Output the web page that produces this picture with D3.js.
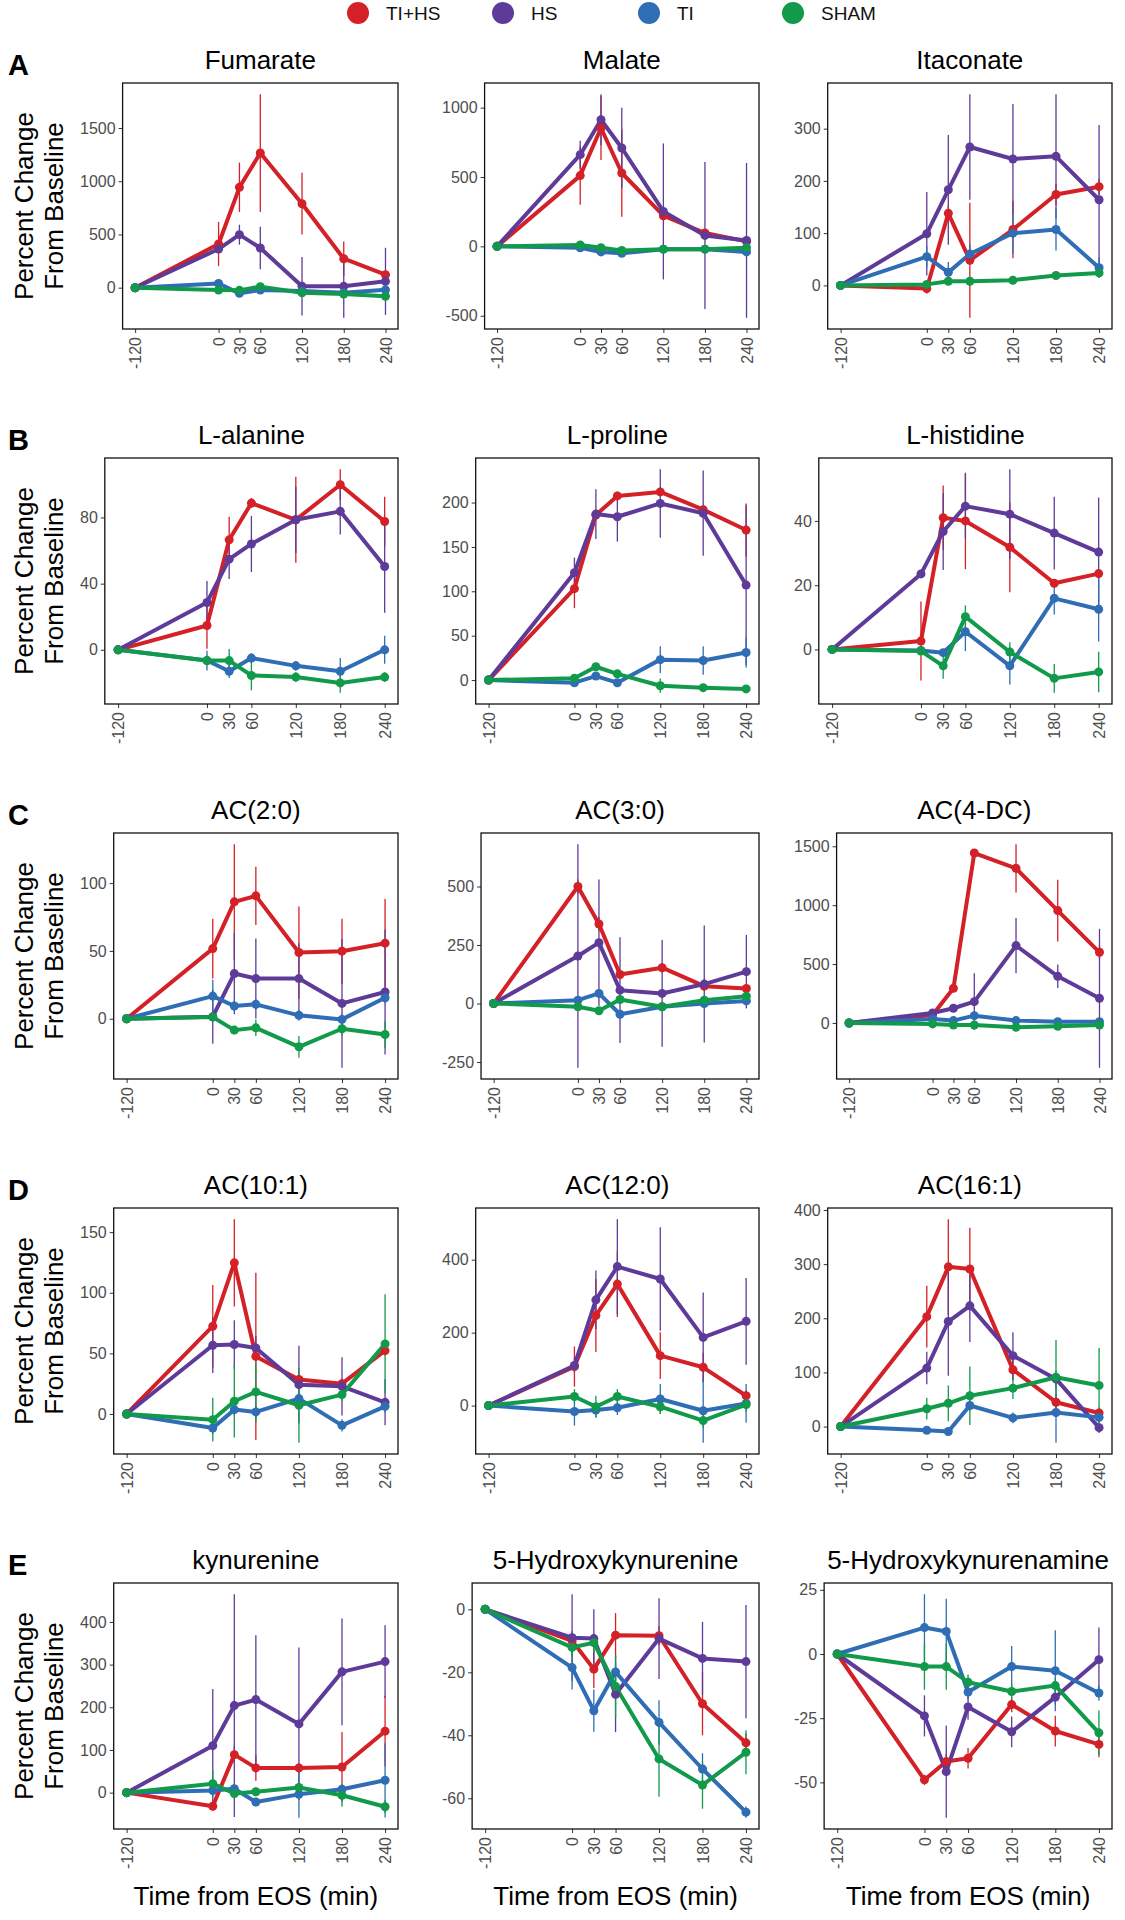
<!DOCTYPE html>
<html>
<head>
<meta charset="utf-8">
<script src="https://cdn.jsdelivr.net/npm/d3@7"></script>
<style>
  body { margin: 0; background: #fff; }
  text { font-family: "Liberation Sans", Arial, sans-serif; }
</style>
</head>
<body>
<div id="chart"></div>
<script>
// time points (min from end of shock) and groups
const times = [-120, 0, 30, 60, 120, 180, 240];
const groups = ["TI+HS", "HS", "TI", "SHAM"];
const groupColors = ["#d42027", "#5e3b98", "#2f6db5", "#119a4a"];

const rowLetters = ["A", "B", "C", "D", "E"];
const panelTitles = ["Fumarate", "Malate", "Itaconate",
  "L-alanine", "L-proline", "L-histidine",
  "AC(2:0)", "AC(3:0)", "AC(4-DC)",
  "AC(10:1)", "AC(12:0)", "AC(16:1)",
  "kynurenine", "5-Hydroxykynurenine", "5-Hydroxykynurenamine"];

const yTicks = [
  [0, 500, 1000, 1500], [-500, 0, 500, 1000], [0, 100, 200, 300],
  [0, 40, 80], [0, 50, 100, 150, 200], [0, 20, 40],
  [0, 50, 100], [-250, 0, 250, 500], [0, 500, 1000, 1500],
  [0, 50, 100, 150], [0, 200, 400], [0, 100, 200, 300, 400],
  [0, 100, 200, 300, 400], [-60, -40, -20, 0], [-50, -25, 0, 25]
];

// means: rows = TI+HS, HS, TI, SHAM
const fumarateMean = [
  [0, 410, 943, 1265, 789, 272, 122],
  [0, 363, 498, 373, 13, 13, 60],
  [0, 40, -53, -22, -30, -47, -20],
  [0, -22, -25, 10, -47, -60, -80]];
const fumarateSE = [
  [0, 208, 232, 553, 290, 163, 40],
  [0, 40, 94, 200, 275, 296, 315],
  [0, 20, 25, 15, 20, 20, 40],
  [0, 10, 10, 15, 15, 15, 15]];

const malateMean = [
  [0, 510, 853, 529, 221, 96, 36],
  [0, 661, 913, 709, 252, 79, 43],
  [0, -10, -40, -50, -20, -20, -40],
  [0, 10, -10, -30, -20, -20, -10]];
const malateSE = [
  [0, 210, 230, 315, 30, 20, 20],
  [0, 100, 184, 290, 490, 530, 558],
  [0, 20, 20, 20, 20, 20, 30],
  [0, 15, 20, 20, 20, 20, 20]];

const itaconateMean = [
  [0, -6, 138, 48, 107, 174, 189],
  [0, 99, 183, 265, 242, 247, 164],
  [0, 55, 25, 60, 100, 107, 34],
  [0, 2, 8, 8, 10, 19, 24]];
const itaconateSE = [
  [0, 10, 15, 110, 55, 20, 15],
  [0, 80, 105, 101, 105, 119, 143],
  [0, 20, 20, 20, 40, 40, 20],
  [0, 5, 5, 5, 5, 5, 5]];

const alanineMean = [
  [0, 14.7, 66.5, 88.7, 78.6, 99.8, 77.6],
  [0, 28.6, 54.8, 64, 78.6, 83.7, 50.4],
  [0, -6.5, -13, -5, -9.7, -13, 0],
  [0, -6.5, -6.5, -15.5, -16.5, -20, -16.5]];
const alanineSE = [
  [0, 14, 14, 3, 26, 9.4, 15],
  [0, 13, 12, 17, 20, 14, 28],
  [0, 6, 4, 3, 3, 8, 8.5],
  [0, 3, 7, 9, 3, 6, 3]];

const prolineMean = [
  [0, 103, 186, 207.5, 212, 192, 169],
  [0, 121, 187, 184, 199, 188, 107],
  [0, -3, 4.5, -3, 23, 22, 31],
  [0, 2, 15, 7, -6.4, -8.6, -10]];
const prolineSE = [
  [0, 22, 5, 5, 5, 5, 30],
  [0, 17, 28, 28, 38.6, 48, 90],
  [0, 3, 3, 3, 15, 16, 17],
  [0, 3, 3, 3, 8, 3, 3]];

const histidineMean = [
  [0, 2.6, 41, 40, 31.8, 20.6, 23.6],
  [0, 23.5, 36.7, 44.6, 42.1, 36.2, 30.3],
  [0, -0.3, -1, 5.5, -5.1, 15.9, 12.5],
  [0, -0.5, -5.1, 10.2, -0.8, -9, -7]];
const histidineSE = [
  [0, 12.3, 10, 15, 14, 1, 1],
  [0, 1, 12, 10, 14, 11.3, 17],
  [0, 1, 1, 6, 5.8, 5, 10],
  [0, 1, 4, 3.5, 3, 4.5, 6.3]];

const ac20Mean = [
  [0, 51.7, 86.2, 90.6, 48.8, 49.8, 55.7],
  [0, 1.5, 33.3, 29.6, 29.6, 11.3, 19.7],
  [0, 16.7, 9.4, 10.6, 2.5, -0.5, 15.5],
  [0, 1.2, -8.4, -6.7, -20.7, -7.4, -11.6]];
const ac20SE = [
  [0, 22, 42.5, 21.5, 34, 24, 32.5],
  [0, 20, 30, 29.5, 26, 47.5, 46],
  [0, 12, 4, 4, 4, 4, 4],
  [0, 3, 3, 6, 8, 5, 10]];

const ac30Mean = [
  [0, 500, 340, 124, 153, 74, 64],
  [0, 203, 260, 57, 43, 83, 136],
  [0, 14, 43, -46, -14, 0, 11],
  [0, -14, -31, 17, -14, 14, 31]];
const ac30SE = [
  [0, 30, 30, 20, 20, 20, 20],
  [0, 478, 270, 226, 228, 250, 157],
  [0, 15, 15, 15, 15, 15, 15],
  [0, 10, 10, 10, 10, 10, 10]];

const ac4dcMean = [
  [0, 68, 294, 1443, 1313, 954, 600],
  [0, 85, 125, 181, 657, 396, 209],
  [0, 34, 20, 62, 20, 11, 11],
  [0, -8, -17, -17, -37, -28, -17]];
const ac4dcSE = [
  [0, 20, 30, 20, 205, 263, 60],
  [0, 20, 30, 240, 235, 100, 590],
  [0, 10, 10, 10, 10, 10, 10],
  [0, 5, 5, 5, 5, 5, 5]];

const ac101Mean = [
  [0, 72.4, 124.7, 47.5, 28.4, 25, 52.3],
  [0, 56.7, 57.3, 54.5, 24.2, 22.8, 9.6],
  [0, -11.6, 3.6, 1.7, 12.7, -9.4, 6.3],
  [0, -4.7, 10.5, 18.2, 7.2, 16, 57.8]];
const ac101SE = [
  [0, 34, 36, 69, 4, 4, 4],
  [0, 23, 20, 10, 32, 24, 19],
  [0, 5, 5, 5, 6, 5, 5],
  [0, 18, 30, 25, 31, 5, 41]];

const ac120Mean = [
  [0, 107, 247, 333, 137, 105, 27],
  [0, 110, 290, 381, 347, 187, 231],
  [0, -16, -12, -6, 18, -14, 6],
  [0, 25, -3, 25, -3, -41, 3]];
const ac120SE = [
  [0, 55, 100, 90, 64, 40, 15],
  [0, 20, 80, 130, 142, 123, 119],
  [0, 39, 20, 20, 41, 88, 53],
  [0, 20, 30, 20, 20, 20, 20]];

const ac161Mean = [
  [0, 203, 295, 291, 105, 45, 25],
  [0, 108, 194, 223, 131, 88, -2],
  [0, -7, -9, 39, 16, 26, 17],
  [0, 33, 43, 57, 71, 91, 76]];
const ac161SE = [
  [0, 57, 88, 76, 20, 15, 10],
  [0, 30, 100, 67, 43, 15, 10],
  [0, 5, 5, 10, 10, 56, 10],
  [0, 20, 33, 54, 20, 69, 69]];

const kynMean = [
  [0, -32, 89, 58, 58, 60, 144],
  [0, 110, 204, 218, 161, 283, 307],
  [0, 5, 9, -22, -4, 8, 29],
  [0, 21, -2, 2, 12, -6, -33]];
const kynSE = [
  [0, 10, 20, 30, 10, 82, 83],
  [0, 133, 261, 151, 179, 125, 85],
  [0, 10, 10, 10, 55, 10, 87],
  [0, 31, 10, 10, 10, 27, 15]];

const hkynMean = [
  [0, -10, -19, -8.2, -8.4, -30, -42.4],
  [0, -9, -9.3, -27, -9.3, -15.6, -16.6],
  [0, -18.5, -32.2, -19.9, -35.9, -50.7, -64.4],
  [0, -12.1, -10.6, -24.5, -47.5, -55.8, -45.4]];
const hkynSE = [
  [0, 3, 6, 7, 3, 10, 3],
  [0, 13.8, 9.3, 12, 12.8, 11.6, 18],
  [0, 7, 6.7, 3, 7, 5, 1.8],
  [0, 3, 3, 10, 12, 7.5, 7]];

const hkynaMean = [
  [0, -49, -41.9, -40.6, -19.7, -30, -35.2],
  [0, -24.1, -45.8, -20.6, -30.3, -16.8, -2.2],
  [0, 10.3, 8.8, -14.8, -4.9, -6.5, -15.2],
  [0, -4.9, -4.9, -11, -14.6, -12.3, -30.7]];
const hkynaSE = [
  [0, 2, 3, 4, 3, 6, 5],
  [0, 8, 18, 5, 6, 3, 12.5],
  [0, 13, 12.7, 3, 8, 15.8, 3],
  [0, 9, 9, 3, 3, 3, 8.7]];

const panelMeans = [fumarateMean, malateMean, itaconateMean,
  alanineMean, prolineMean, histidineMean,
  ac20Mean, ac30Mean, ac4dcMean,
  ac101Mean, ac120Mean, ac161Mean,
  kynMean, hkynMean, hkynaMean];
const panelSEs = [fumarateSE, malateSE, itaconateSE,
  alanineSE, prolineSE, histidineSE,
  ac20SE, ac30SE, ac4dcSE,
  ac101SE, ac120SE, ac161SE,
  kynSE, hkynSE, hkynaSE];

// layout
const W = 1125, H = 1920;
const colBase = [87, 449, 801];
const colRight = [398, 759, 1112];
const rowTop0 = 83, rowStep = 375, panelH = 246;
const fontTick = 16;

const svg = d3.select("#chart").append("svg")
  .attr("width", W)
  .attr("height", H)
  .style("background", "#fff");

// measure label widths so panels line up like ggplot
const measure = svg.append("text").attr("font-size", fontTick).attr("x", -1000);
function textWidth(s) {
  measure.text(s);
  return measure.node().getComputedTextLength();
}

// legend
const legendX = [358, 503, 649, 793];
groups.forEach(function(g, i) {
  svg.append("circle")
    .attr("cx", legendX[i]).attr("cy", 13).attr("r", 11)
    .attr("fill", groupColors[i]);
  svg.append("text")
    .attr("x", legendX[i] + 28).attr("y", 13)
    .attr("dy", "0.35em")
    .attr("font-size", 19)
    .attr("fill", "#111")
    .text(g);
});

function expand(ext) {
  const pad = (ext[1] - ext[0]) * 0.05;
  return [ext[0] - pad, ext[1] + pad];
}

panelTitles.forEach(function(title, p) {
  const row = Math.floor(p / 3);
  const col = p % 3;
  const means = panelMeans[p];
  const ses = panelSEs[p];
  const ticks = yTicks[p];

  const labW = d3.max(ticks, t => textWidth(String(t)));
  const left = colBase[col] + labW;
  const right = colRight[col];
  const top = rowTop0 + row * rowStep;
  const bottom = top + panelH;

  const lo = d3.min(means, (s, gi) => d3.min(s, (v, k) => v - ses[gi][k]));
  const hi = d3.max(means, (s, gi) => d3.max(s, (v, k) => v + ses[gi][k]));

  const x = d3.scaleLinear().domain(expand(d3.extent(times))).range([left, right]);
  const y = d3.scaleLinear().domain(expand([lo, hi])).range([bottom, top]);

  const g = svg.append("g");

  // y axis
  const yAxis = g.append("g")
    .attr("transform", `translate(${left},0)`)
    .call(d3.axisLeft(y).tickValues(ticks).tickFormat(d => String(d)).tickSize(4).tickPadding(3));
  yAxis.select(".domain").remove();
  yAxis.selectAll("line").attr("stroke", "#333");
  yAxis.selectAll("text")
    .attr("font-size", fontTick)
    .attr("font-family", "Liberation Sans, Arial, sans-serif")
    .attr("fill", "#4d4d4d");

  // x axis, rotated labels
  const xAxis = g.append("g")
    .attr("transform", `translate(0,${bottom})`)
    .call(d3.axisBottom(x).tickValues(times).tickFormat(d => String(d)).tickSize(4));
  xAxis.select(".domain").remove();
  xAxis.selectAll("line").attr("stroke", "#333");
  xAxis.selectAll("text")
    .attr("font-size", fontTick)
    .attr("font-family", "Liberation Sans, Arial, sans-serif")
    .attr("fill", "#4d4d4d")
    .attr("transform", "rotate(-90)")
    .attr("text-anchor", "end")
    .attr("x", -8)
    .attr("y", 0)
    .attr("dy", "0.35em");

  // error bars
  means.forEach(function(series, gi) {
    g.selectAll(null)
      .data(series.map((v, k) => ({ t: times[k], v: v, e: ses[gi][k] })).filter(d => d.e > 0))
      .enter().append("line")
      .attr("x1", d => x(d.t)).attr("x2", d => x(d.t))
      .attr("y1", d => y(d.v - d.e)).attr("y2", d => y(d.v + d.e))
      .attr("stroke", groupColors[gi])
      .attr("stroke-width", 1.3);
  });

  // lines
  const line = d3.line().x((d, k) => x(times[k])).y(d => y(d));
  means.forEach(function(series, gi) {
    g.append("path")
      .datum(series)
      .attr("d", line)
      .attr("fill", "none")
      .attr("stroke", groupColors[gi])
      .attr("stroke-width", 4)
      .attr("stroke-linejoin", "round");
  });

  // points
  means.forEach(function(series, gi) {
    g.selectAll(null)
      .data(series)
      .enter().append("circle")
      .attr("cx", (d, k) => x(times[k]))
      .attr("cy", d => y(d))
      .attr("r", 4.5)
      .attr("fill", groupColors[gi]);
  });

  // panel border
  g.append("rect")
    .attr("x", left).attr("y", top)
    .attr("width", right - left).attr("height", bottom - top)
    .attr("fill", "none")
    .attr("stroke", "#111")
    .attr("stroke-width", 1.3);

  // title
  g.append("text")
    .attr("x", (left + right) / 2)
    .attr("y", top - 14)
    .attr("text-anchor", "middle")
    .attr("font-size", 26)
    .attr("fill", "#000")
    .text(title);

  if (col === 0) {
    g.append("text")
      .attr("x", 8).attr("y", top - 8)
      .attr("font-size", 29)
      .attr("font-weight", "bold")
      .text(rowLetters[row]);

    const mid = (top + bottom) / 2;
    const yt = g.append("text")
      .attr("transform", `translate(0,${mid}) rotate(-90)`)
      .attr("text-anchor", "middle")
      .attr("font-size", 26)
      .attr("fill", "#000");
    yt.append("tspan").attr("x", 0).attr("y", 33).text("Percent Change");
    yt.append("tspan").attr("x", 0).attr("y", 63).text("From Baseline");
  }

  if (row === 4) {
    g.append("text")
      .attr("x", (left + right) / 2)
      .attr("y", 1905)
      .attr("text-anchor", "middle")
      .attr("font-size", 26)
      .attr("fill", "#000")
      .text("Time from EOS (min)");
  }
});

measure.remove();
</script>
</body>
</html>
